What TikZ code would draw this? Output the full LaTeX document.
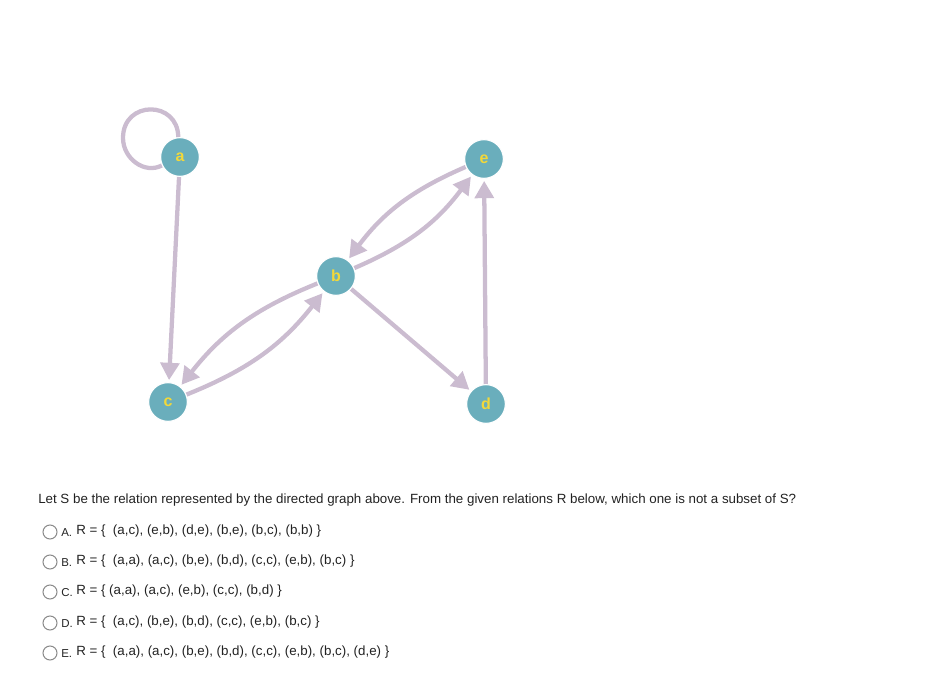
\documentclass[tikz,border=0pt]{standalone}
\usepackage{fontspec}
\setmainfont{Liberation Sans}
\setsansfont{Liberation Sans}
\usetikzlibrary{arrows.meta,backgrounds}
\definecolor{gteal}{HTML}{6AAEBC}
\definecolor{gyellow}{HTML}{F2D83A}
\definecolor{glilac}{HTML}{CBBCD0}
\definecolor{gradio}{HTML}{8A8A8A}
\definecolor{gtext}{HTML}{222222}

\begin{document}
\begin{tikzpicture}[x=0.75pt,y=-0.75pt,
      vert/.style={circle,fill=gteal,draw=white,line width=0.8pt,minimum size=29pt,
                   inner sep=0pt,font=\bfseries\fontsize{12}{12}\selectfont,text=gyellow},
      edge/.style={-{Triangle[length=13pt,width=14pt]},line width=3.2pt,glilac,shorten >=1.5pt},
      radio/.style={circle,draw=gradio,line width=0.8pt,minimum size=10.5pt,inner sep=0pt},
      qtext/.style={anchor=west,inner sep=0pt,text=gtext,font=\fontsize{10}{12}\selectfont},
      qtag/.style={anchor=west,inner sep=0pt,text=gtext,font=\fontsize{8.6}{10}\selectfont}]
    \useasboundingbox (0,0) rectangle (933,681);
    % graph
    \node[vert] (a) at (180,157) {a};
    \node[vert] (b) at (336,276) {b};
    \node[vert] (c) at (168,402) {c};
    \node[vert] (d) at (486,404) {d};
    \node[vert] (e) at (484,159) {e};
    \coordinate (aloop) at (123,138);
    \begin{scope}[on background layer]
      \draw[glilac,line width=3.2pt] (a.95) .. controls (178,100) and (123,100) .. (aloop)
            .. controls (123,158.5) and (144.5,174.6) .. (a.205);
      \draw[edge] (a) -- (c);
      \draw[edge] (b) to[bend right=15] (c);
      \draw[edge] (c) to[bend right=15] (b);
      \draw[edge] (b) to[bend right=15] (e);
      \draw[edge] (e) to[bend right=15] (b);
      \draw[edge] (b) -- (d);
      \draw[edge] (d) -- (e);
    \end{scope}
    % question
    \node[qtext] (q) at (38,500) {Let S be the relation represented by the directed graph above. From the given relations R below, which one is not a subset of S?};
    \node[radio] (ra) at (50,532) {};
    \node[radio] (rb) at (50,562) {};
    \node[radio] (rc) at (50,592) {};
    \node[radio] (rd) at (50,623) {};
    \node[radio] (re) at (50,653) {};
    \node[qtag] (ta) at (61,533) {A.};
    \node[qtag] (tb) at (61,563) {B.};
    \node[qtag] (tc) at (61,593) {C.};
    \node[qtag] (td) at (61,624) {D.};
    \node[qtag] (te) at (61,654) {E.};
    \node[qtext] (oa) at (76,531) {R = \{~ (a,c), (e,b), (d,e), (b,e), (b,c), (b,b) \}};
    \node[qtext] (ob) at (76,561) {R = \{~ (a,a), (a,c), (b,e), (b,d), (c,c), (e,b), (b,c) \}};
    \node[qtext] (oc) at (76,591) {R = \{ (a,a), (a,c), (e,b), (c,c), (b,d) \}};
    \node[qtext] (od) at (76,622) {R = \{~ (a,c), (b,e), (b,d), (c,c), (e,b), (b,c) \}};
    \node[qtext] (oe) at (76,652) {R = \{~ (a,a), (a,c), (b,e), (b,d), (c,c), (e,b), (b,c), (d,e) \}};
\end{tikzpicture}
\end{document}
